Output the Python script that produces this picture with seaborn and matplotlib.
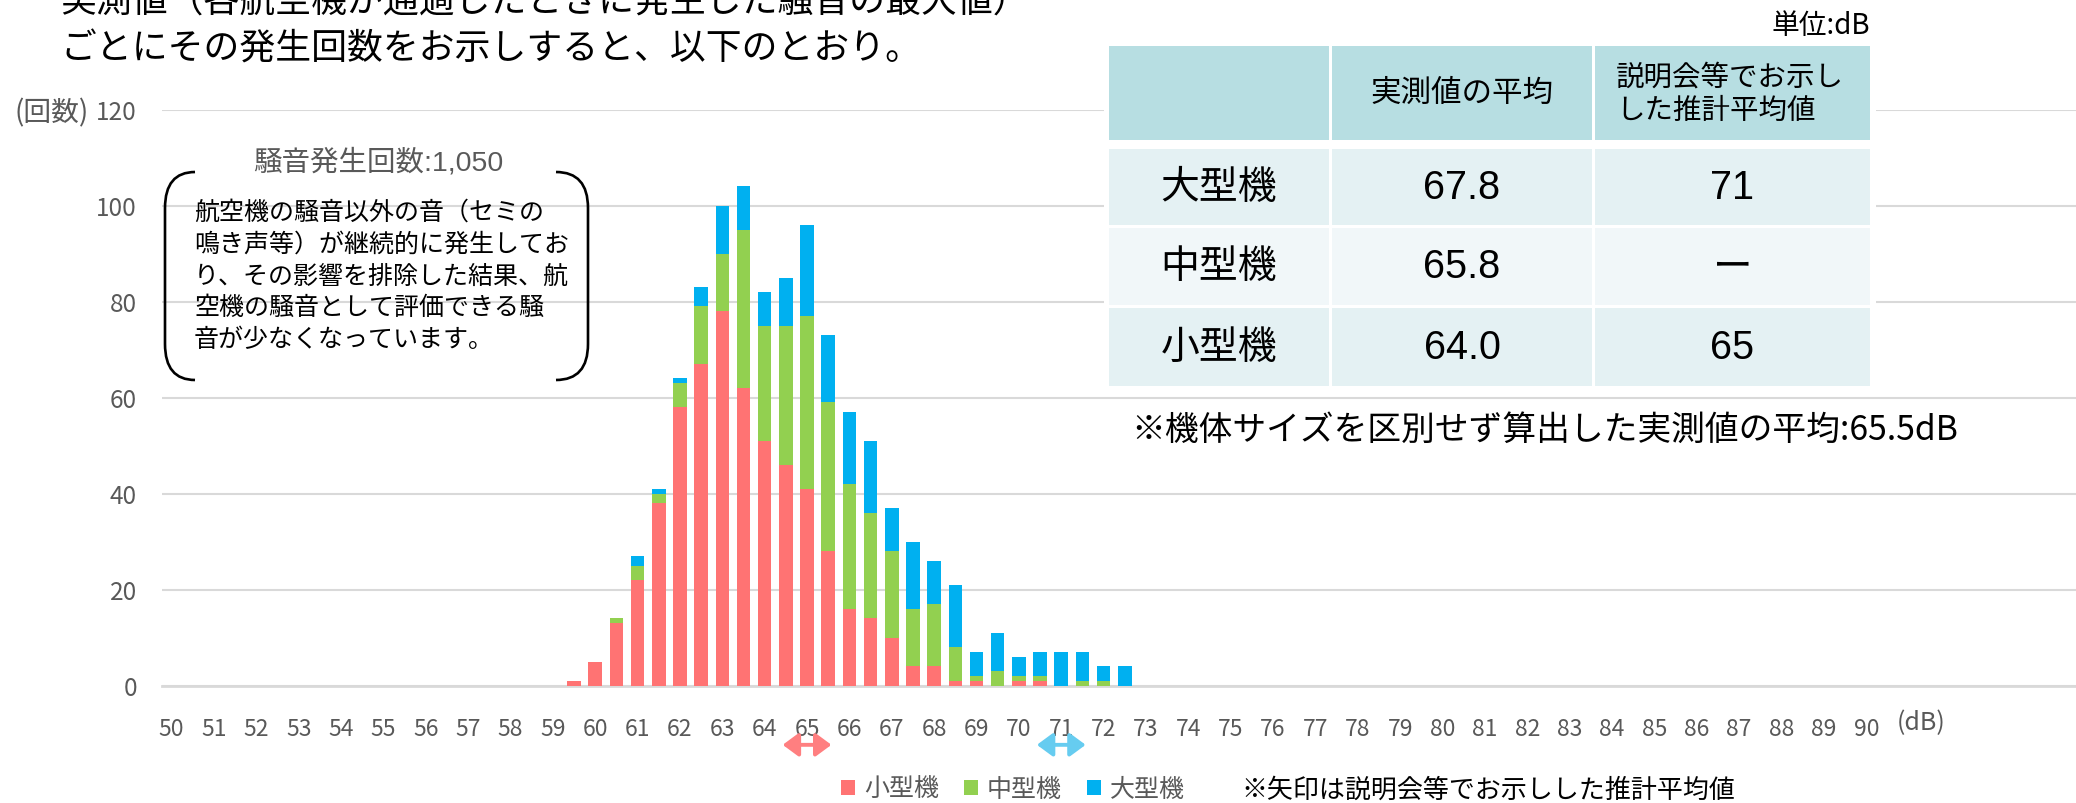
import matplotlib
matplotlib.use("Agg")
import numpy as np
import pandas as pd
import matplotlib.pyplot as plt
import seaborn as sns
from matplotlib.patches import Rectangle, PathPatch, FancyArrowPatch, Patch
from matplotlib.path import Path

# ---------------------------
# data
# ---------------------------
db_bins = [59.5, 60.0, 60.5, 61.0, 61.5, 62.0, 62.5, 63.0, 63.5, 64.0, 64.5, 65.0, 65.5,
           66.0, 66.5, 67.0, 67.5, 68.0, 68.5, 69.0, 69.5, 70.0, 70.5, 71.0, 71.5, 72.0, 72.5]
small = [1, 5, 13, 22, 38, 58, 67, 78, 62, 51, 46, 41, 28,
         16, 14, 10, 4, 4, 1, 1, 0, 1, 1, 0, 0, 0, 0]
medium = [0, 0, 1, 3, 2, 5, 12, 12, 33, 24, 29, 36, 31,
          26, 22, 18, 12, 13, 7, 1, 3, 1, 1, 0, 1, 1, 0]
large = [0, 0, 0, 2, 1, 1, 4, 10, 9, 7, 10, 19, 14,
         15, 15, 9, 14, 9, 13, 5, 8, 4, 5, 7, 6, 3, 4]

series_names = ["小型機", "中型機", "大型機"]
series_colors = ["#FF7373", "#92D050", "#00B0F0"]
y_ticks = [0, 20, 40, 60, 80, 100, 120]
x_first, x_last = 50, 90
total_count = 1050

table_head = ["", "実測値の平均", "説明会等でお示し\nした推計平均値"]
table_rows = ["大型機", "中型機", "小型機"]
table_measured = ["67.8", "65.8", "64.0"]
table_estimated = ["71", "ー", "65"]
overall_avg = "65.5"

est_marks = {"小型機": 65.0, "大型機": 71.0}
arrow_colors = {"小型機": "#FF7F80", "大型機": "#66CCF0"}

title_lines = ["実測値（各航空機が通過したときに発生した騒音の最大値）",
               "ごとにその発生回数をお示しすると、以下のとおり。"]
note_lines = ["航空機の騒音以外の音（セミの",
              "鳴き声等）が継続的に発生してお",
              "り、その影響を排除した結果、航",
              "空機の騒音として評価できる騒",
              "音が少なくなっています。"]

# ---------------------------
# layout helpers (pixels of the 2076x804 canvas)
# ---------------------------
W, H = 2076, 804
def fx(x):
    return x / W
def fy(y):
    return 1 - y / H

sns.set_theme(style="white")
plt.rcParams["font.family"] = ["Noto Sans CJK JP", "DejaVu Sans"]
GRAY = "#595959"
LATIN = ["Liberation Sans", "Noto Sans CJK JP"]

df = pd.DataFrame({"db": [f"{b:.1f}" for b in db_bins],
                   "small": small, "medium": medium, "large": large})
df["s"] = df["small"]
df["sm"] = df["small"] + df["medium"]
df["sml"] = df["sm"] + df["large"]
order = [f"{x_first + 0.5 * i:.1f}" for i in range(2 * (x_last - x_first) + 1)]

fig = plt.figure(figsize=(W / 100, H / 100), dpi=100)
ax = fig.add_axes([fx(162), fy(686.5), 1 - fx(162), (686.5 - 110.5) / H])

# stacked bars drawn as overlapping cumulative totals
for col, c in zip(["sml", "sm", "s"], series_colors[::-1]):
    sns.barplot(data=df, x="db", y=col, order=order, color=c, width=0.64,
                saturation=1, linewidth=0, ax=ax, zorder=3)

ax.set_xlim(-0.45, 89.9)
ax.set_ylim(0, 120)
ax.set_xlabel("")
ax.set_ylabel("")
ax.set_yticks(y_ticks)
ax.set_yticklabels([str(v) for v in y_ticks])
ax.set_xticks(range(0, len(order), 2))
ax.set_xticklabels([order[i].split(".")[0] for i in range(0, len(order), 2)])
ax.tick_params(axis="both", length=0, labelcolor=GRAY)
ax.tick_params(axis="x", labelsize=16.5, pad=23)
ax.tick_params(axis="y", labelsize=17.5, pad=18)
ax.yaxis.grid(True, color="#D9D9D9", lw=1.5)
ax.set_axisbelow(True)
for s in ["top", "left", "right"]:
    ax.spines[s].set_visible(False)
ax.spines["bottom"].set_color("#D9D9D9")
ax.spines["bottom"].set_linewidth(2)

# axis unit labels
fig.text(fx(89), fy(113), "(回数)", fontsize=20, color=GRAY, ha="right", va="center")
fig.text(fx(1921), fy(723), "(dB)", fontsize=18, color=GRAY, ha="center", va="center")

# estimated average arrows under the axis
for name, val in est_marks.items():
    xi = order.index(f"{val:.1f}")
    arr = FancyArrowPatch((xi - 1.15, -0.103), (xi + 1.15, -0.103),
                          transform=ax.get_xaxis_transform(),
                          arrowstyle="<|-|>,head_length=0.95,head_width=0.7",
                          mutation_scale=10, lw=2.8, color=arrow_colors[name],
                          shrinkA=0, shrinkB=0, clip_on=False)
    ax.add_artist(arr)

# title (top line is cut by the canvas edge, as in the source)
fig.text(fx(60), fy(3), title_lines[0], fontsize=25.8, color="black", ha="left", va="center")
fig.text(fx(60), fy(50), title_lines[1], fontsize=25.8, color="black", ha="left", va="center")

# count label and bracketed note
fig.text(fx(378), fy(163), f"騒音発生回数:{total_count:,}", fontsize=20.5, family=LATIN,
         color=GRAY, ha="center", va="center")
for i, line in enumerate(note_lines):
    fig.text(fx(194), fy(213 + 31.8 * i), line, fontsize=18, color="black",
             ha="left", va="center")

def bracket(x_vert, x_end, y0, y1, ry=36):
    pts = [(x_end, y0), (x_vert, y0), (x_vert, y0 + ry), (x_vert, y1 - ry),
           (x_vert, y1), (x_end, y1)]
    codes = [Path.MOVETO, Path.CURVE3, Path.CURVE3, Path.LINETO, Path.CURVE3, Path.CURVE3]
    path = Path([(fx(a), fy(b)) for a, b in pts], codes)
    fig.add_artist(PathPatch(path, fill=False, lw=1.9, ec="black",
                             transform=fig.transFigure, zorder=5))

bracket(165, 195, 173, 381)
bracket(588, 556, 173, 381)

# summary table drawn over the chart
fig.add_artist(Rectangle((fx(1104), fy(393)), fx(1876 - 1104), (393 - 41) / H,
                         transform=fig.transFigure, fc="white", ec="none", zorder=4))
col_x = [(1109, 1329), (1332, 1592), (1595, 1870)]
row_y = [(46.7, 141), (150, 225.5), (228.8, 306), (309.3, 387.3)]
row_colors = ["#B7DEE2", "#E4F1F3", "#F1F7F9", "#E4F1F3"]
for r, (y0, y1) in enumerate(row_y):
    for (x0, x1) in col_x:
        fig.add_artist(Rectangle((fx(x0), fy(y1)), fx(x1 - x0), (y1 - y0) / H,
                                 transform=fig.transFigure, fc=row_colors[r],
                                 ec="none", zorder=5))

hy = (row_y[0][0] + row_y[0][1]) / 2
fig.text(fx(sum(col_x[1]) / 2), fy(hy), table_head[1], fontsize=22, color="black",
         ha="center", va="center", zorder=6)
fig.text(fx(1616), fy(hy), table_head[2], fontsize=20.5, color="black",
         ha="left", va="center", linespacing=1.15, zorder=6)
for r, name in enumerate(table_rows):
    cy = (row_y[r + 1][0] + row_y[r + 1][1]) / 2
    fig.text(fx(sum(col_x[0]) / 2), fy(cy), name, fontsize=28, color="black",
             ha="center", va="center", zorder=6)
    fig.text(fx(sum(col_x[1]) / 2), fy(cy), table_measured[r], fontsize=28.5,
             family=LATIN, color="black", ha="center", va="center", zorder=6)
    fig.text(fx(sum(col_x[2]) / 2), fy(cy), table_estimated[r], fontsize=28.5,
             family=LATIN, color="black", ha="center", va="center", zorder=6)

fig.text(fx(1870), fy(26), "単位:dB", fontsize=20, color="black", ha="right", va="center")
fig.text(fx(1131), fy(430), f"※機体サイズを区別せず算出した実測値の平均:{overall_avg}dB",
         fontsize=24.3, color="black", ha="left", va="center")

# legend + arrow note
handles = [Patch(facecolor=c, edgecolor="none", label=n)
           for n, c in zip(series_names, series_colors)]
fig.legend(handles=handles, loc="center", bbox_to_anchor=(fx(1013), fy(790)), ncol=3,
           frameon=False, fontsize=18, handlelength=0.56, handleheight=0.56,
           handletextpad=0.35, columnspacing=1.0, labelcolor=GRAY, borderpad=0)
fig.text(fx(1241), fy(790), "※矢印は説明会等でお示しした推計平均値", fontsize=18.7,
         color="black", ha="left", va="center")

fig.savefig("out.png", dpi=100)
